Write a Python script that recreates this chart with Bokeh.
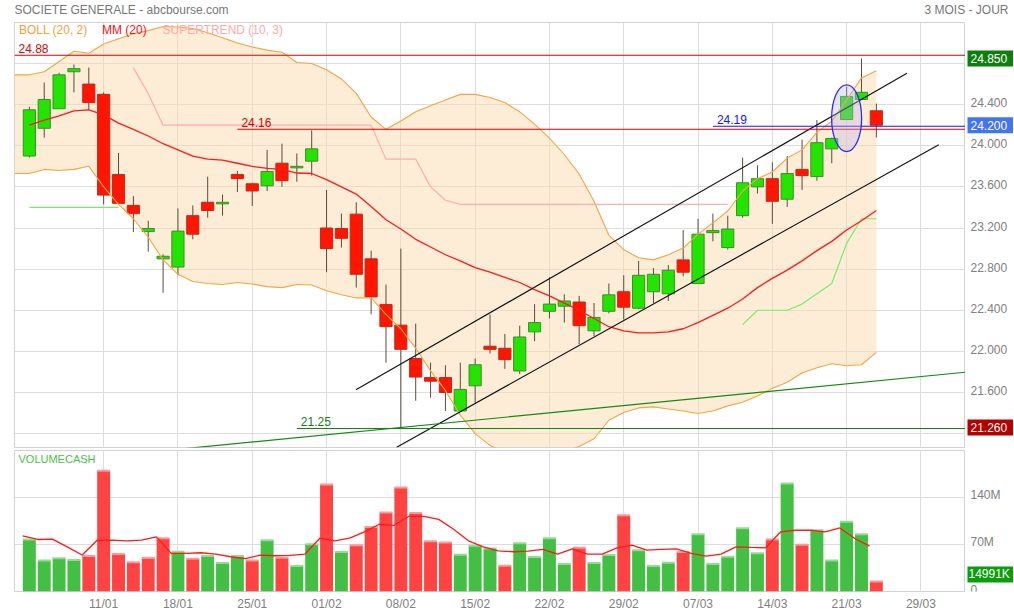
import numpy as np
from bokeh.plotting import figure
from bokeh.layouts import column, row
from bokeh.models import FixedTicker, Label, Range1d, Grid
from bokeh.core.properties import value
from bokeh.embed import file_html
from bokeh.resources import INLINE

FONT = "Liberation Sans"
GRAY = "#808080"

# ---------------- data ----------------
tick_idx = [5, 10, 15, 20, 25, 30, 35, 40, 45, 50, 55, 60]
tick_labels = ["11/01", "18/01", "25/01", "01/02", "08/02", "15/02",
               "22/02", "29/02", "07/03", "14/03", "21/03", "29/03"]
price_grid = [21.2, 21.6, 22.0, 22.4, 22.8, 23.2, 23.6, 24.0, 24.4, 24.8]
price_tick_labels = [21.6, 22.0, 22.4, 22.8, 23.2, 23.6, 24.0, 24.4]
vol_ticks = [0, 70, 140]
vol_tick_labels = ["0", "70M", "140M"]

opens = [23.90, 24.17, 24.36, 24.72, 24.60, 24.50, 23.72, 23.42, 23.165, 22.90,
         22.82, 23.32, 23.45, 23.435, 23.72, 23.63, 23.61, 23.83, 23.785, 23.85,
         23.20, 23.195, 23.335, 22.90, 22.455, 22.255, 21.93, 21.745, 21.745, 21.42,
         21.665, 22.05, 22.03, 21.81, 22.19, 22.39, 22.44, 22.48, 22.20, 22.39,
         22.58, 22.42, 22.58, 22.56, 22.89, 22.66, 23.155, 23.01, 23.32, 23.60,
         23.68, 23.48, 23.77, 23.70, 23.97, 24.255, 24.45, 24.34]
highs = [24.38, 24.615, 24.71, 24.79, 24.76, 24.52, 23.93, 23.51, 23.27, 22.945,
         23.39, 23.42, 23.70, 23.525, 23.755, 23.64, 23.96, 24.02, 23.925, 24.15,
         23.57, 23.34, 23.45, 22.98, 22.65, 23.00, 22.27, 21.89, 21.865, 21.89,
         21.93, 22.36, 22.17, 22.25, 22.46, 22.72, 22.555, 22.54, 22.47, 22.66,
         22.74, 22.88, 22.81, 22.84, 23.18, 23.29, 23.34, 23.32, 23.885, 23.81,
         23.84, 23.90, 24.06, 24.25, 24.08, 24.575, 24.85, 24.41]
lows = [23.885, 24.08, 24.36, 24.52, 24.35, 23.43, 23.44, 23.16, 22.97, 22.57,
        22.74, 23.09, 23.30, 23.32, 23.55, 23.415, 23.56, 23.60, 23.65, 23.71,
        22.77, 23.01, 22.62, 22.36, 21.89, 21.26, 21.52, 21.55, 21.42, 21.42,
        21.50, 21.98, 21.83, 21.78, 22.10, 22.32, 22.28, 22.07, 22.15, 22.37,
        22.31, 22.41, 22.47, 22.49, 22.73, 22.66, 23.07, 22.99, 23.30, 23.535,
        23.24, 23.405, 23.57, 23.66, 23.83, 24.25, 24.45, 24.08]
closes = [24.35, 24.45, 24.69, 24.75, 24.42, 23.52, 23.44, 23.34, 23.195, 22.925,
          23.17, 23.14, 23.37, 23.45, 23.68, 23.56, 23.75, 23.66, 23.80, 23.97,
          23.00, 23.10, 22.75, 22.53, 22.24, 22.02, 21.75, 21.71, 21.60, 21.63,
          21.87, 22.02, 21.92, 22.14, 22.28, 22.46, 22.49, 22.25, 22.33, 22.55,
          22.43, 22.74, 22.75, 22.79, 22.77, 23.14, 23.175, 23.19, 23.64, 23.68,
          23.46, 23.73, 23.71, 24.03, 24.07, 24.48, 24.52, 24.20]

volumes_m = [77.2, 46.2, 49.2, 46.7, 52.6, 179.3, 55.6, 43.3, 49.7, 79.1,
             59.0, 48.7, 52.6, 42.3, 52.6, 46.2, 76.2, 50.1, 37.9, 70.3,
             158.7, 58.5, 68.8, 95.8, 117.4, 154.3, 116.4, 74.7, 72.8, 54.5,
             67.8, 63.9, 38.3, 71.8, 51.1, 79.1, 40.8, 64.9, 42.3, 54.1,
             113.0, 61.4, 37.9, 42.8, 58.5, 85.0, 40.8, 51.6, 93.9, 56.6,
             77.2, 160.2, 69.3, 90.9, 46.2, 103.7, 85.0, 14.991]
vol_ma_m = [82.5, 77.2, 77.7, 66.3, 54.1, 75.7, 76.2, 75.2, 76.2, 81.1,
            56.6, 56.6, 57.5, 55.6, 51.6, 48.7, 54.1, 53.1, 53.6, 55.6,
            79.1, 75.2, 79.1, 88.4, 99.8, 98.3, 111.6, 111.6, 107.1, 92.4,
            75.2, 66.3, 60.4, 59.0, 60.0, 62.5, 55.6, 63.4, 55.6, 55.6,
            64.9, 68.8, 61.4, 62.5, 63.4, 56.6, 52.6, 55.6, 66.3, 65.4,
            64.9, 88.4, 90.9, 90.9, 88.4, 94.3, 78.7, 67.3]

# Bollinger (20, 2): from the session before the first candle (index -1) to the last
boll_upper = [24.69, 24.69, 24.72, 24.82, 24.92, 24.90, 24.99, 25.04, 25.09, 25.12,
              25.16, 25.155, 25.14, 25.10, 25.05, 25.00, 24.96, 24.93, 24.91, 24.81,
              24.80, 24.74, 24.65, 24.51, 24.28, 24.16, 24.24, 24.33, 24.39, 24.445,
              24.50, 24.50, 24.47, 24.42, 24.33, 24.21, 24.075, 23.915, 23.725, 23.46,
              23.13, 22.99, 22.91, 22.89, 22.94, 23.005, 23.14, 23.25, 23.365, 23.56,
              23.68, 23.745, 23.88, 23.96, 24.13, 24.24, 24.445, 24.66, 24.73]
boll_lower = [23.73, 23.73, 23.77, 23.76, 23.77, 23.80, 23.60, 23.43, 23.29, 23.11,
              22.89, 22.75, 22.68, 22.66, 22.65, 22.67, 22.655, 22.63, 22.62, 22.65,
              22.645, 22.59, 22.55, 22.52, 22.52, 22.36, 22.22, 22.03, 21.81, 21.62,
              21.38, 21.20, 21.085, 21.02, 21.01, 20.99, 21.005, 21.025, 21.075, 21.15,
              21.33, 21.405, 21.45, 21.46, 21.44, 21.42, 21.395, 21.42, 21.47, 21.505,
              21.565, 21.64, 21.70, 21.79, 21.84, 21.88, 21.86, 21.87, 21.99]
mm20 = [24.20, 24.25, 24.29, 24.34, 24.35, 24.30, 24.22, 24.16, 24.095, 24.02,
        23.96, 23.90, 23.87, 23.86, 23.83, 23.80, 23.78, 23.77, 23.735, 23.73,
        23.67, 23.60, 23.53, 23.41, 23.28, 23.19, 23.09, 23.015, 22.94, 22.88,
        22.815, 22.77, 22.72, 22.67, 22.60, 22.54, 22.47, 22.40, 22.32, 22.24,
        22.20, 22.18, 22.18, 22.19, 22.22, 22.28, 22.35, 22.42, 22.51, 22.62,
        22.71, 22.79, 22.88, 22.98, 23.07, 23.18, 23.27, 23.37]
NA = float("nan")
supertrend_up = [23.40] * 7 + [NA] * 41 + [22.26, 22.40, 22.40, 22.40, 22.46, 22.56,
                                            22.66, 23.05, 23.29, 23.29]
supertrend_down = ([NA] * 7 + [24.76, 24.505] + [24.20] * 15 + [23.87, 23.87, 23.87, 23.60, 23.47]
                   + [23.43] * 19 + [NA] * 10)

levels = [24.88, 24.16, 24.19, 21.25]
level_start = [-1.0, 14.0, 46.0, 18.0]
level_colors = ["#e00000", "#e00000", "#1414ff", "#0f850f"]

trend_x0 = [21.98, 24.72, 10.63]
trend_y0 = [21.626, 21.068, 21.057]
trend_x1 = [59.06, 61.2, 62.97]
trend_y1 = [24.706, 24.009, 21.797]
trend_colors = ["#151515", "#151515", "#138a13"]

mark_idx, mark_price, mark_w, mark_h = 55.0, 24.268, 2.02, 0.65

# ---------------- derived ----------------
n = len(closes)
idx = np.arange(n)
o = np.array(opens); c = np.array(closes)
up = c >= o
body_fill = np.where(up, "#22e400", "#ff1500")
body_line = np.where(up, "#3d8f2a", "#c02a18")
vol_up = [i == 0 or closes[i] >= closes[i - 1] for i in range(n)]
vcol = ["#43bf43" if u else "#ff4242" for u in vol_up]
vtop = ["#94dc94" if u else "#ff9a9a" for u in vol_up]
bidx = np.arange(-1, n)

x_lo, x_hi = -1.0, 63.0
p_lo, p_hi = 21.065, 25.199
v_hi = 209.3
XR = Range1d(x_lo, x_hi)
PYR = Range1d(p_lo, p_hi)
VYR = Range1d(0, v_hi)


def bare(fig):
    fig.outline_line_color = None
    fig.grid.visible = False
    return fig


# ---------------- header ----------------
hdr = bare(figure(width=1014, height=22, x_range=Range1d(0, 1014), y_range=Range1d(22, 0),
                  output_backend="svg", toolbar_location=None,
                  x_axis_location=None, y_axis_location=None,
                  min_border_left=0, min_border_right=0, min_border_top=0, min_border_bottom=0))
hdr.text(x=[14], y=[9], text=["SOCIETE GENERALE - abcbourse.com"], text_color="#777777",
         text_font=value(FONT), text_font_size=value("12px"), text_baseline="middle")
hdr.text(x=[1008], y=[9], text=["3 MOIS - JOUR"], text_color="#777777",
         text_font=value(FONT), text_font_size=value("12px"), text_baseline="middle",
         text_align="right")

# ---------------- price panel ----------------
p1 = figure(width=965, height=427, x_range=XR, y_range=PYR,
            output_backend="svg", toolbar_location=None,
            x_axis_location=None, y_axis_location=None,
            min_border_left=14, min_border_right=0, min_border_top=0, min_border_bottom=2,
            outline_line_color="#d2d2d2")
p1.grid.visible = False
p1.add_layout(Grid(dimension=0, ticker=FixedTicker(ticks=tick_idx), grid_line_color="#dddddd"))
p1.add_layout(Grid(dimension=1, ticker=FixedTicker(ticks=price_grid), grid_line_color="#dddddd"))

p1.varea(x=bidx, y1=boll_lower, y2=boll_upper, fill_color="#fbd9ae", fill_alpha=0.5)

p1.segment(x0=idx, y0=highs, x1=idx, y1=lows, line_color="#5a4b3c", line_width=1)
p1.vbar(x=idx, bottom=np.minimum(o, c), top=np.maximum(o, c), width=0.82,
        fill_color=body_fill, line_color=body_line, line_width=1)

p1.line(bidx, boll_upper, line_color="#f6a445", line_width=1.1)
p1.line(bidx, boll_lower, line_color="#f6a445", line_width=1.1)
p1.line(idx, supertrend_up, line_color="#74ef6a", line_width=1.2)
p1.line(idx, supertrend_down, line_color="#ffacac", line_width=1.2)
p1.line(idx, mm20, line_color="#ff1a1a", line_width=1.3)

p1.segment(x0=trend_x0, y0=trend_y0, x1=trend_x1, y1=trend_y1, line_color=trend_colors, line_width=1.2)
p1.segment(x0=level_start, y0=levels, x1=[x_hi] * len(levels), y1=levels,
           line_color=level_colors, line_width=1.1)
for xs, lv, col in zip(level_start, levels, level_colors):
    p1.add_layout(Label(x=xs, y=lv, x_offset=4, y_offset=7, text=f"{lv:.2f}",
                        text_color=col, text_font=FONT, text_font_size="12px",
                        text_baseline="middle"))

p1.ellipse(x=[mark_idx], y=[mark_price], width=[mark_w], height=[mark_h],
           fill_color="#b9b4ee", fill_alpha=0.35, line_color="#2b2bff", line_width=1.3)

for txt, off, col in [("BOLL (20, 2)", 4.5, "#f5a240"), ("MM (20)", 87.5, "#ff1010"),
                      ("SUPERTREND (10, 3)", 148, "#ffaaaa")]:
    p1.add_layout(Label(x=x_lo, y=p_hi, x_offset=off, y_offset=-7, text=txt, text_color=col,
                        text_font=FONT, text_font_size="12px", text_baseline="middle"))

# price scale (right side)
s1 = bare(figure(width=48, height=427, x_range=Range1d(0, 48), y_range=PYR,
                 output_backend="svg", toolbar_location=None,
                 x_axis_location=None, y_axis_location=None,
                 min_border_left=0, min_border_right=0, min_border_top=0, min_border_bottom=2))
s1.text(x=[5] * len(price_tick_labels), y=price_tick_labels,
        text=[f"{t:.3f}" for t in price_tick_labels], text_color=GRAY,
        text_font=value(FONT), text_font_size=value("12px"), text_baseline="middle", y_offset=-2)
box_vals = [max(highs), closes[-1], min(lows)]
box_cols = ["#0e7f0e", "#4274f4", "#b50000"]
s1.rect(x=[26] * 3, y=box_vals, width=[48] * 3, height=[16] * 3,
        width_units="screen", height_units="screen", fill_color=box_cols, line_color=None)
s1.text(x=[5] * 3, y=box_vals, text=[f"{v:.3f}" for v in box_vals], text_color="white",
        text_font=value(FONT), text_font_size=value("12px"), text_baseline="middle")

# ---------------- volume panel ----------------
p2 = figure(width=965, height=164, x_range=XR, y_range=VYR,
            output_backend="svg", toolbar_location=None, y_axis_location=None,
            min_border_left=14, min_border_right=0, min_border_top=1, min_border_bottom=21,
            outline_line_color="#d2d2d2")
p2.grid.visible = False
p2.add_layout(Grid(dimension=0, ticker=FixedTicker(ticks=tick_idx), grid_line_color="#dddddd"))
p2.add_layout(Grid(dimension=1, ticker=FixedTicker(ticks=vol_ticks), grid_line_color="#dddddd"))
xa = p2.xaxis[0]
xa.ticker = FixedTicker(ticks=tick_idx)
xa.major_label_overrides = dict(zip(tick_idx, tick_labels))
xa.axis_line_color = None
xa.major_tick_line_color = None
xa.minor_tick_line_color = None
xa.major_tick_out = 0
xa.major_tick_in = 0
xa.minor_tick_out = 0
xa.major_label_text_color = GRAY
xa.major_label_text_font = FONT
xa.major_label_text_font_size = "12px"
xa.major_label_standoff = 5

p2.vbar(x=idx, top=volumes_m, width=0.87, fill_color=vcol, line_color=None)
p2.rect(x=idx, y=volumes_m, width=0.87, height=2, height_units="screen",
        fill_color=vtop, line_color=None)
p2.line(idx - 0.45, vol_ma_m, line_color="#ff1a1a", line_width=1.3)
p2.add_layout(Label(x=x_lo, y=v_hi, x_offset=4, y_offset=-8, text="VOLUMECASH",
                    text_color="#4cc04c", text_font=FONT, text_font_size="11px",
                    text_baseline="middle"))

# volume scale (right side), frame aligned with the volume panel
s2 = bare(figure(width=48, height=164, x_range=Range1d(0, 48), y_range=VYR,
                 output_backend="svg", toolbar_location=None,
                 x_axis_location=None, y_axis_location=None,
                 min_border_left=0, min_border_right=0, min_border_top=1, min_border_bottom=21))
s2.text(x=[5] * len(vol_ticks), y=vol_ticks, text=vol_tick_labels, text_color=GRAY,
        text_font=value(FONT), text_font_size=value("12px"), text_baseline="middle", y_offset=-2)
s2.rect(x=[26], y=[volumes_m[-1] + 7 * v_hi / 142], width=[48], height=[16], width_units="screen",
        height_units="screen", fill_color="#0a9e0a", line_color=None)
s2.text(x=[3], y=[volumes_m[-1]], text=[f"{round(volumes_m[-1] * 1000)}K"], text_color="white",
        text_font=value(FONT), text_font_size=value("12px"), text_baseline="middle", y_offset=-7)

layout = column(hdr, row(p1, s1), row(p2, s2))
open("out.html", "w").write(file_html(layout, INLINE))
